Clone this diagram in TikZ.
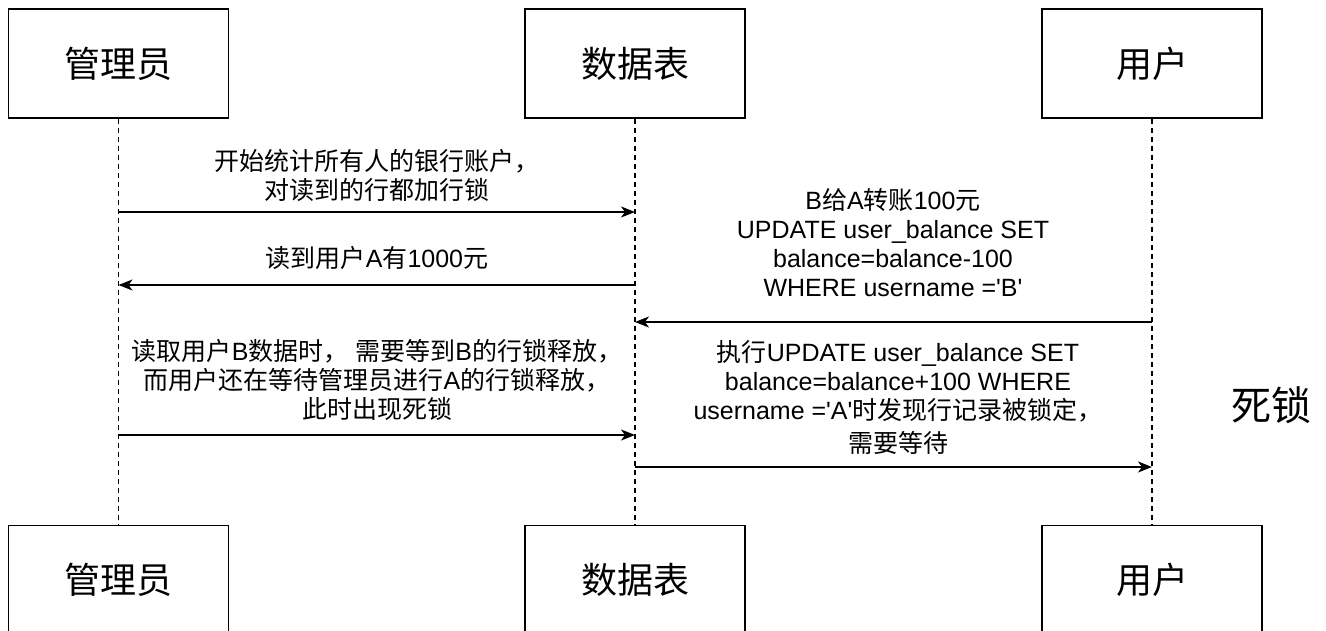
\documentclass[tikz,border=0pt]{standalone}
\usepackage{fontspec}
\setmainfont{Liberation Sans}[Ligatures=TeXOff]
\newfontfamily\zhfont{Noto Sans CJK SC}
\newcommand{\zh}[1]{{\zhfont #1}}
\usetikzlibrary{arrows.meta}
\begin{document}
\begin{tikzpicture}[x=1pt,y=-1pt,
  actor/.style={draw, line width=1.5pt, minimum width=220pt, minimum height=109pt, inner sep=0pt, font=\fontsize{36}{40}\selectfont\zhfont},
  life/.style={line width=1.3pt, dash pattern=on 5pt off 4pt},
  msg/.style={line width=1.5pt, -{Stealth[length=14pt,width=11pt,inset=4pt]}},
  lbl/.style={align=center, font=\fontsize{25}{29}\selectfont, inner sep=0pt}
]
\useasboundingbox (0,0) rectangle (1326,631);
% actors
\node[actor] (adm) at (118.5,63.5) {管理员};
\node[actor] (tab) at (635,63.5) {数据表};
\node[actor] (usr) at (1152,63.5) {用户};
\node[actor] (admb) at (118.5,580) {管理员};
\node[actor] (tabb) at (635,580) {数据表};
\node[actor] (usrb) at (1152,580) {用户};
% lifelines
\draw[life] (adm.south) -- (admb.north);
\draw[life] (tab.south) -- (tabb.north);
\draw[life] (usr.south) -- (usrb.north);
% message end points
\coordinate (m1s) at (118.5,212); \coordinate (m1e) at (635,212);
\coordinate (m2s) at (635,285);   \coordinate (m2e) at (118.5,285);
\coordinate (m3s) at (1152,322);  \coordinate (m3e) at (635,322);
\coordinate (m4s) at (118.5,435); \coordinate (m4e) at (635,435);
\coordinate (m5s) at (635,467);   \coordinate (m5e) at (1152,467);
\draw[msg] (m1s) -- (m1e);
\draw[msg] (m2s) -- (m2e);
\draw[msg] (m3s) -- (m3e);
\draw[msg] (m4s) -- (m4e);
\draw[msg] (m5s) -- (m5e);
% labels
\node[lbl] (l1) at (377,176) {\zh{开始统计所有人的银行账户，}\\\zh{对读到的行都加行锁}};
\node[lbl] (l2) at (377,258) {\zh{读到用户}A\zh{有}1000\zh{元}};
\node[lbl] (l3) at (893,243) {B\zh{给}A\zh{转账}100\zh{元}\\UPDATE user\_balance SET\\balance=balance-100\\WHERE username ='B'};
\node[lbl] (l4) at (377,380) {\zh{读取用户}B\zh{数据时，} \zh{需要等到}B\zh{的行锁释放，}\\\zh{而用户还在等待管理员进行}A\zh{的行锁释放，}\\\zh{此时出现死锁}};
\node[lbl] (l5) at (898,397) {\zh{执行}UPDATE user\_balance SET\\balance=balance+100 WHERE\\username ='A'\zh{时发现行记录被锁定，}\\[4pt]\zh{需要等待}};
\node[font=\fontsize{40}{44}\selectfont\zhfont, inner sep=0pt] (dl) at (1271,405) {死锁};
\end{tikzpicture}
\end{document}
